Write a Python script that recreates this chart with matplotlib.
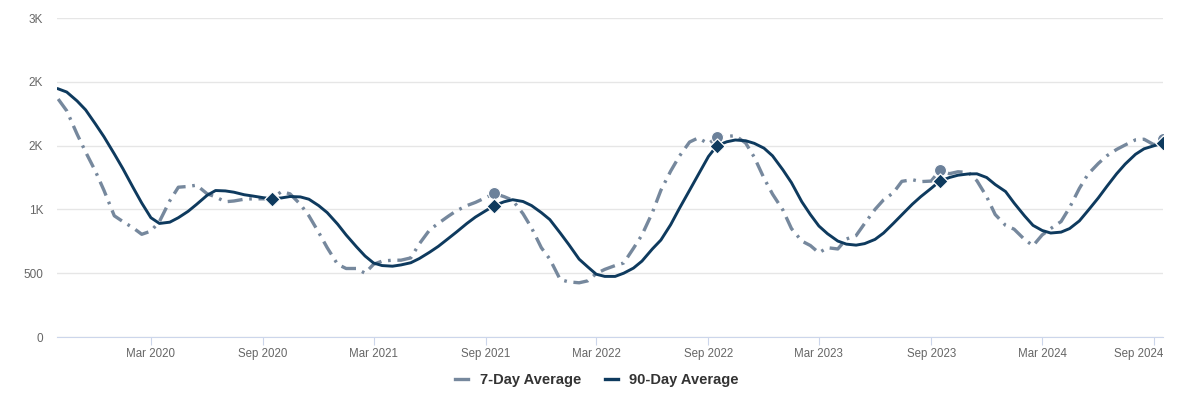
import matplotlib
matplotlib.use("Agg")
import matplotlib.pyplot as plt
import matplotlib.dates as mdates
import matplotlib.transforms as mtransforms
from matplotlib.lines import Line2D
import pandas as pd

plt.rcParams['font.family'] = ['Liberation Sans', 'DejaVu Sans']

# semi-monthly samples
dates = pd.date_range("2019-10-01", "2024-09-15", freq="SMS")

avg_90 = [1945, 1920, 1850, 1780, 1670, 1570, 1435, 1320, 1170, 1050,
          935, 890, 900, 935, 985, 1040, 1110, 1148, 1145, 1135,
          1115, 1105, 1092, 1084, 1090, 1101, 1098, 1080, 1030, 975,
          885, 800, 707, 635, 580, 560, 555, 565, 582, 615,
          665, 710, 770, 823, 890, 940, 990, 1030, 1060, 1076,
          1062, 1030, 975, 920, 815, 725, 610, 550, 492, 475,
          475, 500, 540, 595, 690, 760, 880, 1005, 1150, 1270,
          1415, 1500, 1530, 1544, 1538, 1518, 1480, 1420, 1310, 1210,
          1060, 960, 870, 810, 752, 728, 720, 732, 765, 815,
          890, 958, 1040, 1100, 1165, 1221, 1250, 1268, 1278, 1279,
          1250, 1195, 1140, 1050, 950, 875, 835, 815, 822, 850,
          910, 990, 1090, 1180, 1279, 1355, 1432, 1475, 1500, 1518]

avg_7 = [1865, 1773, 1590, 1450, 1300, 1150, 950, 905, 855, 805,
         830, 905, 1068, 1174, 1180, 1190, 1123, 1098, 1060, 1066,
         1080, 1083, 1083, 1083, 1140, 1122, 1040, 950, 820, 700,
         570, 537, 537, 500, 570, 595, 602, 602, 620, 730,
         840, 890, 945, 990, 1030, 1055, 1093, 1125, 1100, 1072,
         966, 855, 700, 610, 450, 432, 425, 440, 497, 530,
         560, 580, 695, 800, 975, 1150, 1300, 1415, 1528, 1560,
         1515, 1565, 1572, 1578, 1520, 1410, 1245, 1120, 995, 850,
         752, 717, 660, 700, 690, 768, 795, 890, 1000, 1075,
         1130, 1220, 1233, 1218, 1222, 1305, 1280, 1295, 1290, 1225,
         1100, 960, 875, 845, 765, 715, 800, 850, 905, 1015,
         1165, 1275, 1360, 1420, 1470, 1505, 1545, 1550, 1505, 1555]

y_ticks = [0, 500, 1000, 1500, 2000, 2500]
y_labels = ["0", "500", "1K", "2K", "2K", "3K"]

df = pd.DataFrame({"date": dates, "d7": avg_7, "d90": avg_90})
marks = df[(df.date.dt.month == 9) & (df.date.dt.day == 15)]

c7 = "#76889d"
c90 = "#0e3a5e"

fig = plt.figure(figsize=(11.94, 3.95), dpi=100)
ax = fig.add_axes([0.0477, 0.1468, 0.9263, 0.8076])

ax.plot(df.date, df.d7, color=c7, lw=2.4, ls=(0, (4.5, 2, 0.8, 2)), zorder=3)
ax.plot(df.date, df.d90, color=c90, lw=2.1, zorder=4)
ax.scatter(marks.date, marks.d7, s=75, color="#6c819a", edgecolor="white",
           linewidth=0.8, zorder=5)
ax.scatter(marks.date, marks.d90, s=60, marker="D", color=c90, edgecolor="white",
           linewidth=0.9, zorder=6)

ax.set_xlim(pd.Timestamp("2019-09-29"), pd.Timestamp("2024-09-15"))
ax.set_ylim(0, 2500)
ax.set_yticks(y_ticks)
ax.set_yticklabels(y_labels)
ax.grid(axis="y", color="#e6e6e6", lw=1)
ax.set_axisbelow(True)

ax.xaxis.set_major_locator(mdates.MonthLocator(bymonth=[3, 9]))
ax.xaxis.set_major_formatter(mdates.DateFormatter("%b %Y"))

for s in ["top", "right", "left"]:
    ax.spines[s].set_visible(False)
ax.spines["bottom"].set_color("#ccd6eb")
ax.tick_params(axis="y", length=0, pad=10, labelsize=8.5, labelcolor="#666666")
ax.tick_params(axis="x", length=6, color="#ccd6eb", pad=2, labelsize=8.3,
               labelcolor="#666666")

# last label kept inside the plot, as in the original
fig.canvas.draw()
last = ax.get_xticklabels()[-1]
last.set_horizontalalignment("right")
last.set_transform(last.get_transform() +
                   mtransforms.ScaledTranslation(9 / 100, 0, fig.dpi_scale_trans))

handles = [Line2D([], [], color=c7, lw=2.4),
           Line2D([], [], color=c90, lw=2.4)]
fig.legend(handles, ["7-Day Average", "90-Day Average"], loc="center",
           bbox_to_anchor=(0.5, 0.037), ncol=2, frameon=False,
           handlelength=0.9, handletextpad=0.8, columnspacing=1.6,
           prop={"size": 10.5, "weight": "bold"}, labelcolor="#333333")

fig.savefig("out.png", dpi=100)
